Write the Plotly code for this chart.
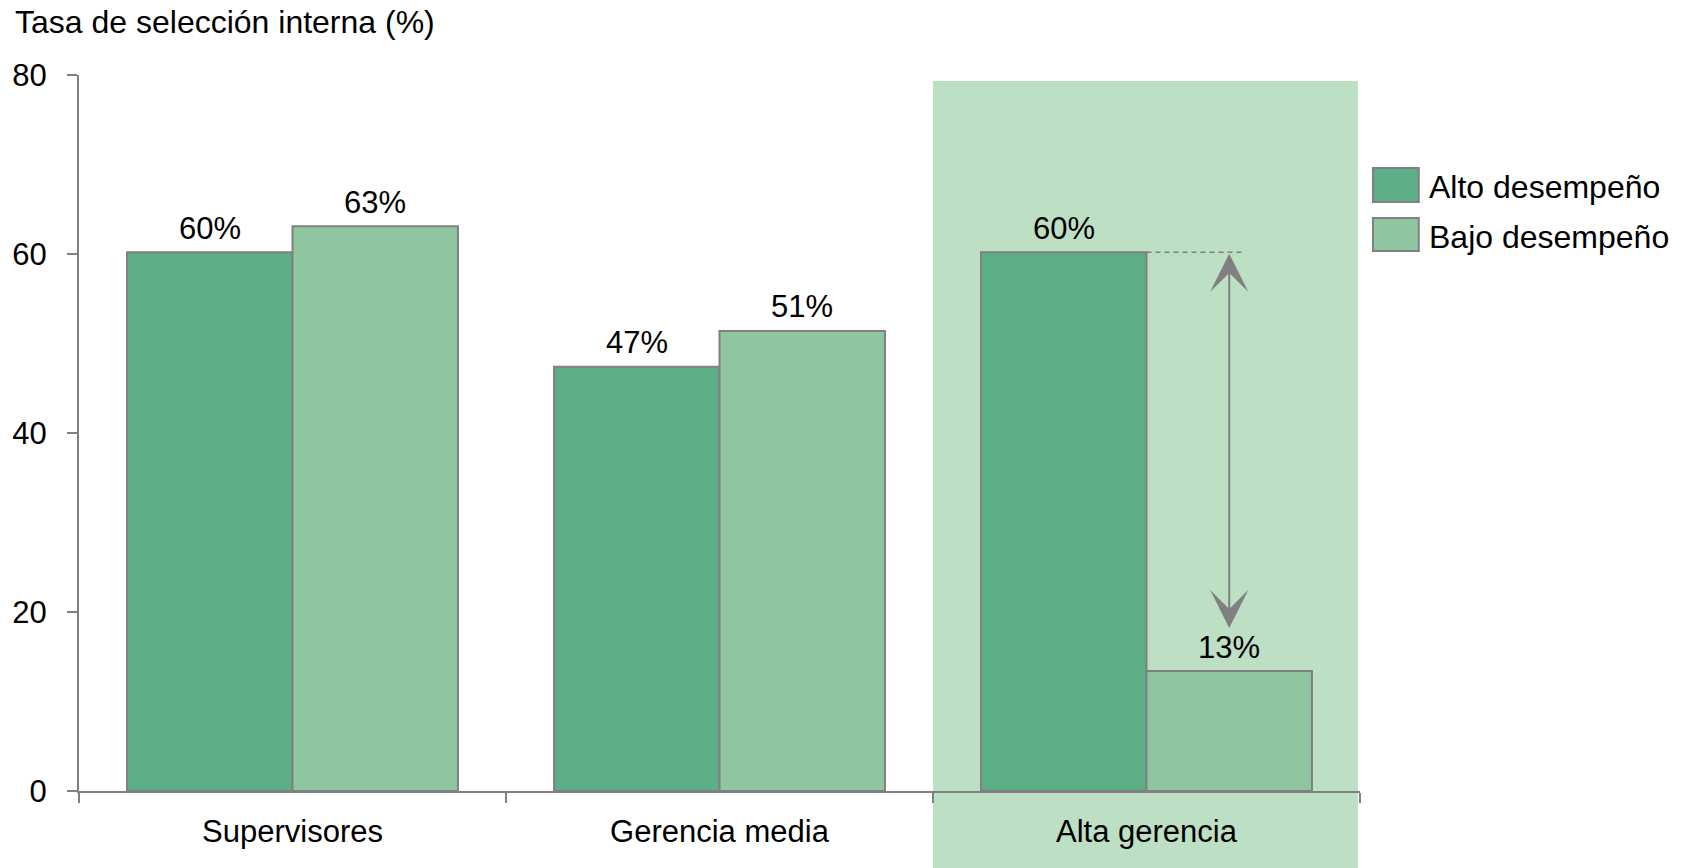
import plotly.graph_objects as go

# ---- data ----
categories = ["Supervisores", "Gerencia media", "Alta gerencia"]
alto = [60.2, 47.4, 60.2]
bajo = [63.1, 51.4, 13.4]
series_names = ["Alto desempeño", "Bajo desempeño"]
y_ticks = [0, 20, 40, 60, 80]
title_text = "Tasa de selección interna (%)"
arrow_low = 18.2  # lower tip of the gap arrow (value units)

# ---- style ----
FONT = "Liberation Sans, Arial, sans-serif"
FS = 31
FS_BIG = 32
C_DARK = "#5BAE85"
C_LIGHT = "#8FC6A0"
C_BAND = "#BDDFC4"
C_GRAY = "#808080"

W, H = 1689, 868
L, R, T, B = 74, 329, 75, 77
PW, PH = W - L - R, H - T - B
BARGAP = 0.225


def px_x(p):
    return (p - L) / PW


def px_y(p):
    return (H - B - p) / PH


fig = go.Figure()
fig.add_trace(go.Bar(
    x=categories, y=alto, name=series_names[0],
    marker=dict(color=C_DARK, line=dict(color=C_GRAY, width=2)),
))
fig.add_trace(go.Bar(
    x=categories, y=bajo, name=series_names[1],
    marker=dict(color=C_LIGHT, line=dict(color=C_GRAY, width=2)),
))

bw = (1 - BARGAP) / 2

# value labels above bars
for i, (a, b) in enumerate(zip(alto, bajo)):
    for xv, v in ((i - bw / 2, a), (i + bw / 2, b)):
        fig.add_annotation(x=xv, y=v, xref="x", yref="y", text=f"{v:.0f}%",
                           showarrow=False, yanchor="middle", yshift=24,
                           font=dict(size=FS, color="black", family=FONT))

# highlighted band behind "Alta gerencia"
fig.add_shape(type="rect", xref="x", yref="paper",
              x0=1.5, x1=2.495, y0=px_y(H + 5), y1=px_y(81),
              fillcolor=C_BAND, line=dict(width=0), layer="below")

# gap indicator
xc = 2 + bw / 2
fig.add_shape(type="line", xref="x", yref="y",
              x0=2, x1=xc + 0.035, y0=alto[2], y1=alto[2],
              line=dict(color=C_GRAY, width=1.5, dash="5px,4px"))
fig.add_annotation(x=xc, y=arrow_low, ax=xc, ay=alto[2], xref="x", yref="y",
                   axref="x", ayref="y", text="", showarrow=True,
                   arrowhead=3, arrowside="end+start", arrowsize=3.2,
                   arrowwidth=2, arrowcolor=C_GRAY, standoff=0, startstandoff=0)

# title
fig.add_annotation(xref="paper", yref="paper", x=px_x(8), y=px_y(22),
                   xanchor="left", yanchor="middle", text=title_text,
                   showarrow=False, font=dict(size=FS_BIG, color="black", family=FONT))

# manual legend
legend_rows = [(168, 202, C_DARK), (218, 251, C_LIGHT)]
for name, (y0, y1, col) in zip(series_names, legend_rows):
    fig.add_shape(type="rect", xref="paper", yref="paper",
                  x0=px_x(1373), x1=px_x(1419), y0=px_y(y1), y1=px_y(y0),
                  fillcolor=col, line=dict(color=C_GRAY, width=2))
    fig.add_annotation(xref="paper", yref="paper", x=px_x(1427),
                       y=px_y((y0 + y1) / 2 + 2), xanchor="left", yanchor="middle",
                       text=name, showarrow=False,
                       font=dict(size=FS_BIG, color="black", family=FONT))

fig.update_layout(
    width=W, height=H,
    margin=dict(l=L, r=R, t=T, b=B, pad=0),
    paper_bgcolor="white", plot_bgcolor="rgba(0,0,0,0)",
    barmode="group", bargap=BARGAP, bargroupgap=0,
    showlegend=False,
    font=dict(family=FONT, size=FS, color="black"),
)
fig.update_xaxes(
    showline=True, linecolor=C_GRAY, linewidth=2,
    ticks="outside", tickson="boundaries", ticklen=10, tickcolor=C_GRAY,
    tickwidth=2, showgrid=False, ticklabelstandoff=12,
    tickfont=dict(size=FS, family=FONT, color="black"),
)
fig.update_yaxes(
    range=[0, 80], tickvals=y_ticks, showline=True, linecolor=C_GRAY,
    linewidth=2, ticks="outside", ticklen=10, tickcolor=C_GRAY, tickwidth=2,
    showgrid=False, zeroline=False, ticklabelstandoff=14,
    tickfont=dict(size=FS, family=FONT, color="black"),
)

fig.write_html("out.html")
